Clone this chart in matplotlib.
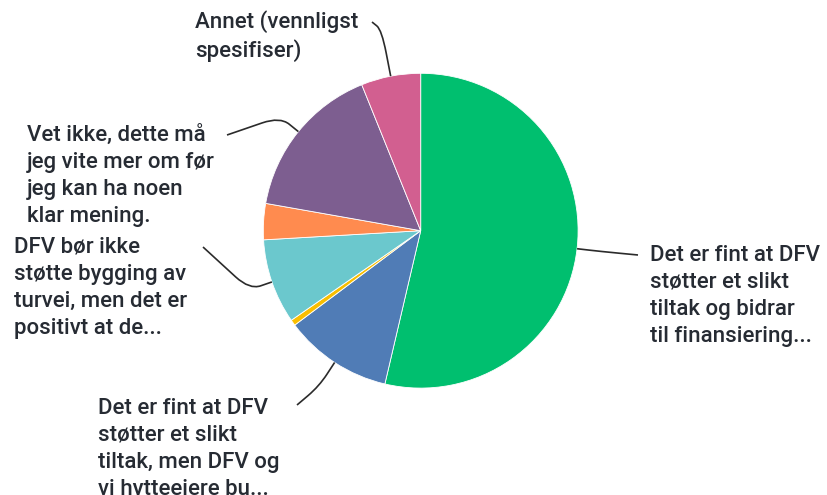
import numpy as np
import matplotlib.pyplot as plt
from matplotlib.path import Path
from matplotlib.patches import PathPatch

# ===== DATA =====
labels = [
    "Det er fint at DFV\nstøtter et slikt\ntiltak og bidrar\ntil finansiering...",
    "Det er fint at DFV\nstøtter et slikt\ntiltak, men DFV og\nvi hytteeiere bu...",
    "",
    "DFV bør ikke\nstøtte bygging av\nturvei, men det er\npositivt at de...",
    "",
    "Vet ikke, dette må\njeg vite mer om før\njeg kan ha noen\nklar mening.",
    "Annet (vennligst\nspesifiser)",
]
values = [53.6, 11.1, 0.6, 8.7, 3.7, 16.1, 6.1]
colors = ["#00BF6F", "#507CB6", "#F9BE00", "#6BC8CD", "#FF8B4F", "#7D5E90", "#D25F90"]

# ===== LAYOUT (pixels in the 828x495 picture) =====
CX, CY, R = 420.7, 230.7, 157.4
W, H = 828, 495
# text left/top of each label, end of the leader line, knee radius
text_pos = [(650, 245), (98, 398), None, (14, 237), None, (27, 125), (195, 10)]
line_end = [(638, 255), (297, 405), None, (203, 247), None, (227, 135), (372, 22)]
knee_r = [1.15, 1.18, None, 1.15, None, 1.15, 1.3]


def px(x, y):
    return (x - CX) / R, (CY - y) / R


fig = plt.figure(figsize=(W / 100, H / 100), dpi=100)
ax = fig.add_axes([0, 0, 1, 1])

wedges, _ = ax.pie(values, colors=colors, startangle=90, counterclock=False,
                   radius=1, center=(0, 0), frame=True,
                   wedgeprops=dict(edgecolor="white", linewidth=0.6))
ax.set_xlim(-CX / R, (W - CX) / R)
ax.set_ylim((CY - H) / R, CY / R)
ax.set_aspect("auto")
ax.axis("off")

for w, lab, tp, le, kr in zip(wedges, labels, text_pos, line_end, knee_r):
    if not lab:
        continue
    ang = np.deg2rad((w.theta1 + w.theta2) / 2)
    p0 = np.array([np.cos(ang), np.sin(ang)])
    k = p0 * kr
    p2 = np.array(px(*le))
    # straight - rounded corner - straight
    a = k + (p0 - k) * 0.5
    b = k + (p2 - k) * min(0.5, 0.12 / max(np.linalg.norm(p2 - k), 1e-6))
    path = Path([p0, a, k, b, p2],
                [Path.MOVETO, Path.LINETO, Path.CURVE3, Path.CURVE3, Path.LINETO])
    ax.add_patch(PathPatch(path, fill=False, edgecolor="#2b2b2b", lw=1.2))
    tx, ty = px(*tp)
    ax.text(tx, ty, lab, ha="left", va="top", fontsize=16,
            family="Roboto", fontweight="medium", color="#262b33",
            linespacing=1.37)

fig.savefig("out.png", dpi=100)
